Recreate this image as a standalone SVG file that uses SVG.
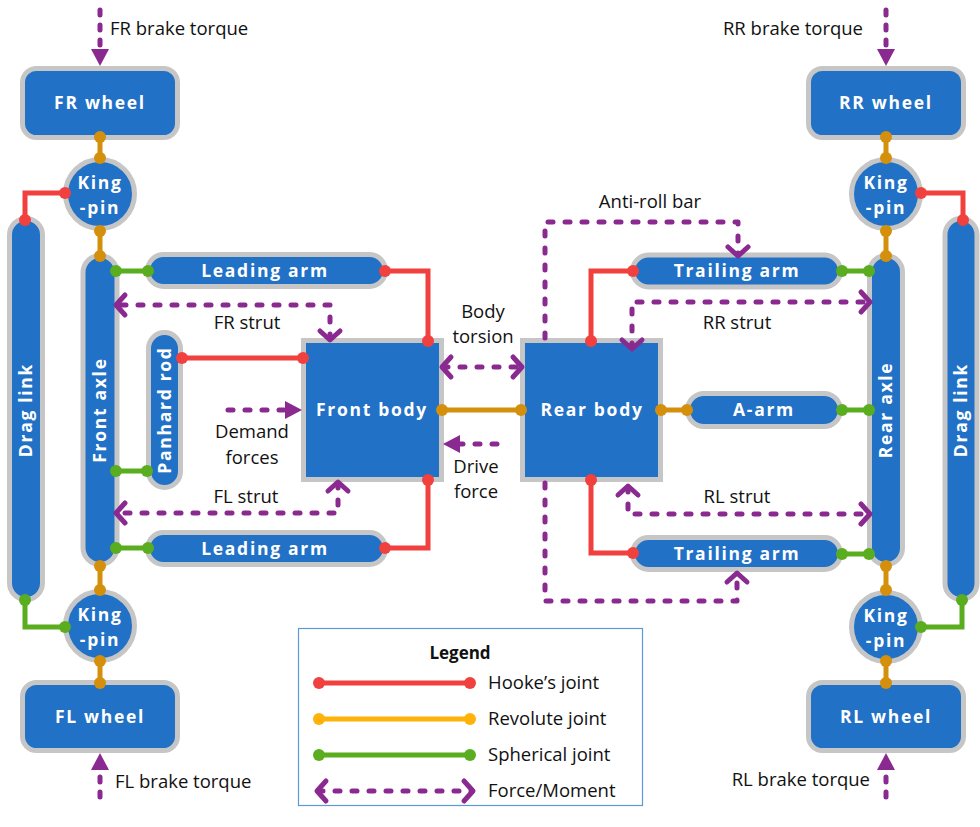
<svg xmlns="http://www.w3.org/2000/svg" width="980" height="827" viewBox="0 0 980 827">
<defs>
<style>
.node{fill:#2171c7;stroke:#c6c6c6;stroke-width:5}
.nl{font-family:"Open Sans","DejaVu Sans",sans-serif;font-weight:bold;font-size:17.5px;fill:#fff;text-anchor:middle;letter-spacing:1.7px}
.lbl{font-family:"Open Sans","DejaVu Sans",sans-serif;font-size:18.5px;fill:#111}
.c{text-anchor:middle}
.red{stroke:#f0413f;stroke-width:5;fill:none}
.ora{stroke:#d4900c;stroke-width:5;fill:none}
.grn{stroke:#59ad1f;stroke-width:5;fill:none}
.dr{fill:#f0413f}.do{fill:#d4900c}.dg{fill:#59ad1f}
.f{stroke:#8a2a90;stroke-width:5;fill:none;stroke-dasharray:5 12;stroke-linecap:round;stroke-linejoin:round}
</style>
<marker id="chev" markerUnits="userSpaceOnUse" viewBox="-14 -14 20 28" refX="-2" refY="0" markerWidth="20" markerHeight="28" orient="auto-start-reverse">
<path d="M-10,-10 L-1,0 L-10,10" fill="none" stroke="#8a2a90" stroke-width="5" stroke-linecap="round" stroke-linejoin="round"/>
</marker>
<marker id="tri" markerUnits="userSpaceOnUse" viewBox="-18 -10 20 20" refX="0" refY="0" markerWidth="20" markerHeight="20" orient="auto">
<path d="M-17,-9 L0,0 L-17,9 z" fill="#8a2a90"/>
</marker>
</defs>
<rect width="980" height="827" fill="#fff"/>

<g id="nodes">
<g id="fr-wheel"><rect class="node" x="22.5" y="68.5" width="155" height="69" rx="14"/><text class="nl" x="100" y="109">FR wheel</text></g>
<g id="rr-wheel"><rect class="node" x="808.5" y="68.5" width="155" height="69" rx="14"/><text class="nl" x="886" y="109">RR wheel</text></g>
<g id="fl-wheel"><rect class="node" x="22.5" y="682.5" width="155" height="68" rx="14"/><text class="nl" x="100" y="723">FL wheel</text></g>
<g id="rl-wheel"><rect class="node" x="808.5" y="682.5" width="155" height="68" rx="14"/><text class="nl" x="886" y="723">RL wheel</text></g>
<g id="fr-kingpin"><circle class="node" cx="100" cy="194" r="34.5"/><text class="nl" x="100" y="189">King</text><text class="nl" x="100" y="214">-pin</text></g>
<g id="rr-kingpin"><circle class="node" cx="886" cy="194" r="34.5"/><text class="nl" x="886" y="189">King</text><text class="nl" x="886" y="214">-pin</text></g>
<g id="fl-kingpin"><circle class="node" cx="100" cy="626" r="34.5"/><text class="nl" x="100" y="621">King</text><text class="nl" x="100" y="646">-pin</text></g>
<g id="rl-kingpin"><circle class="node" cx="886" cy="627" r="34.5"/><text class="nl" x="886" y="622">King</text><text class="nl" x="886" y="647">-pin</text></g>
<g id="drag-link-front"><rect class="node" x="9.5" y="218.5" width="33" height="381" rx="16.5"/><text class="nl" x="26" y="416" transform="rotate(-90 26 410)">Drag link</text></g>
<g id="drag-link-rear"><rect class="node" x="945" y="218.5" width="32" height="381" rx="16"/><text class="nl" x="961" y="416" transform="rotate(-90 961 410)">Drag link</text></g>
<g id="front-axle"><rect class="node" x="83" y="255.5" width="34" height="309" rx="17"/><text class="nl" x="100" y="416" transform="rotate(-90 100 410)">Front axle</text></g>
<g id="rear-axle"><rect class="node" x="869.5" y="255.5" width="33" height="309" rx="16.5"/><text class="nl" x="886" y="416" transform="rotate(-90 886 410)">Rear axle</text></g>
<g id="panhard-rod"><rect class="node" x="148.5" y="332.5" width="32" height="155" rx="16"/><text class="nl" x="164.5" y="416" transform="rotate(-90 164.5 410)">Panhard rod</text></g>
<g id="leading-arm-top"><rect class="node" x="147.5" y="254.5" width="238" height="32" rx="16"/><text class="nl" x="265" y="277">Leading arm</text></g>
<g id="leading-arm-bottom"><rect class="node" x="147.5" y="532.5" width="238" height="32" rx="16"/><text class="nl" x="265" y="555">Leading arm</text></g>
<g id="front-body"><rect class="node" x="303.5" y="340.5" width="138" height="139"/><text class="nl" x="372" y="416">Front body</text></g>
<g id="rear-body"><rect class="node" x="522.5" y="340.5" width="138" height="139"/><text class="nl" x="592" y="416">Rear body</text></g>
<g id="trailing-arm-top"><rect class="node" x="632.5" y="255" width="208" height="32" rx="16"/><text class="nl" x="737" y="277">Trailing arm</text></g>
<g id="a-arm"><rect class="node" x="687.5" y="393.5" width="153" height="33" rx="16.5"/><text class="nl" x="764" y="416">A-arm</text></g>
<g id="trailing-arm-bottom"><rect class="node" x="632.5" y="537.5" width="208" height="32" rx="16"/><text class="nl" x="737" y="559.5">Trailing arm</text></g>
</g>

<g id="connectors">
<path class="ora" d="M100,137V158M100,231V256M100,566V590M100,661V683M886,137V158M886,231V256M886,566V590M886,661V683M442,410H521M661,410H687"/>
<path class="red" d="M65,193H25V220M921,193H963V220M385,271H428V341M182,358H303M385,548H428V480M633,271H591V341M633,553H591V480"/>
<path class="grn" d="M116,271H148M116,471H147M116,548H148M25,600V627H65M962,600V627H921M842,271H869M842,410H869M842,554H869"/>
<g class="do">
<circle cx="100" cy="137" r="6"/><circle cx="100" cy="158" r="6"/><circle cx="100" cy="231" r="6"/><circle cx="100" cy="256" r="6"/>
<circle cx="100" cy="566" r="6"/><circle cx="100" cy="590" r="6"/><circle cx="100" cy="661" r="6"/><circle cx="100" cy="683" r="6"/>
<circle cx="886" cy="137" r="6"/><circle cx="886" cy="158" r="6"/><circle cx="886" cy="231" r="6"/><circle cx="886" cy="256" r="6"/>
<circle cx="886" cy="566" r="6"/><circle cx="886" cy="590" r="6"/><circle cx="886" cy="661" r="6"/><circle cx="886" cy="683" r="6"/>
<circle cx="442" cy="410" r="6"/><circle cx="521" cy="410" r="6"/><circle cx="661" cy="410" r="6"/><circle cx="687" cy="410" r="6"/>
</g>
<g class="dr">
<circle cx="65" cy="193" r="6"/><circle cx="25" cy="220" r="6"/><circle cx="921" cy="193" r="6"/><circle cx="963" cy="220" r="6"/>
<circle cx="385" cy="271" r="6"/><circle cx="428" cy="341" r="6"/><circle cx="182" cy="358" r="6"/><circle cx="303" cy="358" r="6"/>
<circle cx="385" cy="548" r="6"/><circle cx="428" cy="480" r="6"/><circle cx="633" cy="271" r="6"/><circle cx="591" cy="341" r="6"/>
<circle cx="633" cy="553" r="6"/><circle cx="591" cy="480" r="6"/>
</g>
<g class="dg">
<circle cx="116" cy="271" r="6"/><circle cx="148" cy="271" r="6"/><circle cx="116" cy="471" r="6"/><circle cx="147" cy="471" r="6"/>
<circle cx="116" cy="548" r="6"/><circle cx="148" cy="548" r="6"/><circle cx="25" cy="600" r="6"/><circle cx="65" cy="627" r="6"/>
<circle cx="962" cy="600" r="6"/><circle cx="921" cy="627" r="6"/><circle cx="842" cy="271" r="6"/><circle cx="869" cy="271" r="6"/>
<circle cx="842" cy="410" r="6"/><circle cx="869" cy="410" r="6"/><circle cx="842" cy="554" r="6"/><circle cx="869" cy="554" r="6"/>
</g>
</g>

<g id="forces">
<path class="f" d="M100,10V50" style="stroke-dasharray:5 10"/>
<path class="f" d="M100,10V66" style="stroke:none" marker-end="url(#tri)"/>
<path class="f" d="M886,10V50" style="stroke-dasharray:5 10"/>
<path class="f" d="M886,10V66" style="stroke:none" marker-end="url(#tri)"/>
<path class="f" d="M100,797V770" style="stroke-dasharray:5 10"/>
<path class="f" d="M100,797V753" style="stroke:none" marker-end="url(#tri)"/>
<path class="f" d="M886,797V770" style="stroke-dasharray:5 10"/>
<path class="f" d="M886,797V753" style="stroke:none" marker-end="url(#tri)"/>
<path class="f" d="M228,410H287"/>
<path class="f" d="M228,410H302" style="stroke:none" marker-end="url(#tri)"/>
<path class="f" d="M497,444H458"/>
<path class="f" d="M497,444H443" style="stroke:none" marker-end="url(#tri)"/>
<path class="f" d="M330,339V305H117" marker-start="url(#chev)" marker-end="url(#chev)"/>
<path class="f" d="M338,483V513H117" marker-start="url(#chev)" marker-end="url(#chev)"/>
<path class="f" d="M443,367H521" marker-start="url(#chev)" marker-end="url(#chev)"/>
<path class="f" d="M545,338V222H738V255" marker-end="url(#chev)"/>
<path class="f" d="M545,483V601H737V574" marker-end="url(#chev)"/>
<path class="f" d="M632,348V302H869" marker-start="url(#chev)" marker-end="url(#chev)"/>
<path class="f" d="M628,487V514H869" marker-start="url(#chev)" marker-end="url(#chev)"/>
</g>

<g id="labels">
<text class="lbl" x="110" y="35">FR brake torque</text>
<text class="lbl" x="863" y="35" text-anchor="end">RR brake torque</text>
<text class="lbl" x="115" y="788">FL brake torque</text>
<text class="lbl" x="870" y="786" text-anchor="end">RL brake torque</text>
<text class="lbl c" x="247" y="329">FR strut</text>
<text class="lbl c" x="246" y="503">FL strut</text>
<text class="lbl c" x="252" y="438">Demand</text>
<text class="lbl c" x="252" y="464">forces</text>
<text class="lbl c" x="483" y="318">Body</text>
<text class="lbl c" x="483" y="343">torsion</text>
<text class="lbl c" x="476" y="473">Drive</text>
<text class="lbl c" x="476" y="498">force</text>
<text class="lbl c" x="650" y="208">Anti-roll bar</text>
<text class="lbl c" x="737" y="329">RR strut</text>
<text class="lbl c" x="737" y="503">RL strut</text>
</g>

<g id="legend">
<rect x="298.5" y="628.5" width="344" height="177" fill="#fff" stroke="#5b9bd5" stroke-width="1.2"/>
<text x="460" y="659" style="font-family:'Open Sans','DejaVu Sans',sans-serif;font-weight:bold;font-size:17px;fill:#111" text-anchor="middle">Legend</text>
<path d="M319,683H470" stroke="#f0413f" stroke-width="5"/>
<circle cx="319" cy="683" r="6" fill="#f0413f"/><circle cx="470" cy="683" r="6" fill="#f0413f"/>
<path d="M319,719H470" stroke="#ffb20a" stroke-width="5"/>
<circle cx="319" cy="719" r="6" fill="#ffb20a"/><circle cx="470" cy="719" r="6" fill="#ffb20a"/>
<path d="M319,755H470" stroke="#59ad1f" stroke-width="5"/>
<circle cx="319" cy="755" r="6" fill="#59ad1f"/><circle cx="470" cy="755" r="6" fill="#59ad1f"/>
<path class="f" d="M318,791H472" marker-start="url(#chev)" marker-end="url(#chev)"/>
<text class="lbl" x="488" y="689">Hooke’s joint</text>
<text class="lbl" x="488" y="725">Revolute joint</text>
<text class="lbl" x="488" y="761">Spherical joint</text>
<text class="lbl" x="488" y="797">Force/Moment</text>
</g>
</svg>
